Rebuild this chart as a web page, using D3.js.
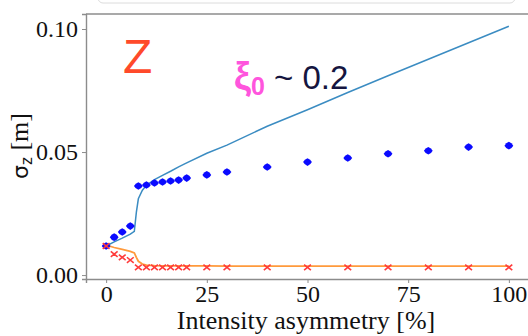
<!DOCTYPE html>
<html>
<head>
<meta charset="utf-8">
<script src="https://cdn.jsdelivr.net/npm/d3@7"></script>
<style>
  body { margin: 0; background: #fff; }
  svg { display: block; }
</style>
</head>
<body>
<div id="chart"></div>
<script>
// measured points (diamonds / crosses)
const measX = [0, 2, 4, 6, 8, 10, 12, 14, 16, 18, 20, 25, 30, 40, 50, 60, 70, 80, 90, 100];
const measBlue = [0.0118, 0.0154, 0.0175, 0.0199, 0.0362, 0.0366, 0.0374, 0.0378, 0.0382, 0.0386,
  0.0394, 0.0407, 0.0419, 0.0439, 0.0459, 0.0476, 0.0493, 0.0505, 0.0520, 0.0526];
const measRed = [0.0118, 0.0085, 0.0072, 0.0061, 0.0031, 0.0031, 0.0031, 0.0031, 0.0031, 0.0031,
  0.0031, 0.0031, 0.0031, 0.0031, 0.0031, 0.0031, 0.0031, 0.0031, 0.0031, 0.0031];

// simulation curves
const simX = [0, 2, 4, 6, 7, 7.5, 8, 9, 10, 12, 14, 16, 18, 20, 25, 30, 40, 50, 60, 70, 80, 90, 100];
const simBlue = [0.0118, 0.0135, 0.0150, 0.0166, 0.0178, 0.0255, 0.0310, 0.0345, 0.0365, 0.0388,
  0.0405, 0.0422, 0.0440, 0.0456, 0.0495, 0.0528, 0.0605, 0.0672, 0.0742, 0.0810, 0.0877, 0.0944, 0.1011];
const simOrange = [0.0122, 0.0112, 0.0104, 0.0096, 0.0090, 0.0072, 0.0056, 0.0045, 0.0040, 0.0038,
  0.0037, 0.0037, 0.0037, 0.0037, 0.0037, 0.0036, 0.0036, 0.0036, 0.0036, 0.0036, 0.0036, 0.0036, 0.0036];

const xTicks = [0, 25, 50, 75, 100];
const yTicks = [0, 0.05, 0.10];

const width = 528;
const height = 336;

const svg = d3.select('#chart').append('svg')
  .attr('width', width)
  .attr('height', height);

const x = d3.scaleLinear().domain([-5, 105]).range([86, 529]);
const y = d3.scaleLinear().domain([-0.0016, 0.1061]).range([279, 14]);

// faint box left over at the top of the screenshot
svg.append('rect')
  .attr('x', 98).attr('y', -12)
  .attr('width', 417).attr('height', 15)
  .attr('rx', 5)
  .attr('fill', 'none')
  .attr('stroke', '#dcdcdc');

const spine = '#8c8c8c';
const serif = '"Liberation Serif", "Times New Roman", serif';

svg.append('g')
  .attr('transform', `translate(0,${y.range()[0]})`)
  .call(d3.axisBottom(x).tickValues(xTicks).tickSize(4).tickPadding(2).tickFormat(d3.format('d')))
  .call((g) => g.select('.domain').attr('stroke', spine).attr('stroke-width', 1.4))
  .call((g) => g.selectAll('.tick line').attr('stroke', spine))
  .call((g) => g.selectAll('.tick text')
    .attr('fill', '#111')
    .style('font-family', serif)
    .style('font-size', '24px'));

svg.append('g')
  .attr('transform', `translate(${x.range()[0]},0)`)
  .call(d3.axisLeft(y).tickValues(yTicks).tickSize(4).tickPadding(4).tickFormat(d3.format('.2f')))
  .call((g) => g.select('.domain').attr('stroke', spine).attr('stroke-width', 1.4))
  .call((g) => g.selectAll('.tick line').attr('stroke', spine))
  .call((g) => g.selectAll('.tick text')
    .attr('fill', '#111')
    .style('font-family', serif)
    .style('font-size', '24px'));

// top spine
svg.append('line')
  .attr('x1', x.range()[0]).attr('x2', x.range()[1])
  .attr('y1', y.range()[1]).attr('y2', y.range()[1])
  .attr('stroke', spine)
  .attr('stroke-width', 1.4);

const line = d3.line().x((d) => x(d[0])).y((d) => y(d[1]));

svg.append('path')
  .datum(simX.map((v, i) => [v, simBlue[i]]))
  .attr('d', line)
  .attr('fill', 'none')
  .attr('stroke', '#3b8cc2')
  .attr('stroke-width', 1.5);

svg.append('path')
  .datum(simX.map((v, i) => [v, simOrange[i]]))
  .attr('d', line)
  .attr('fill', 'none')
  .attr('stroke', '#ff9a3c')
  .attr('stroke-width', 1.8);

svg.append('g')
  .selectAll('path')
  .data(measX.map((v, i) => [v, measBlue[i]]))
  .join('path')
  .attr('transform', (d) => `translate(${x(d[0])},${y(d[1])})`)
  .attr('d', 'M-4.4,0 Q-3,-2.8 0,-3.8 Q3,-2.8 4.4,0 Q3,2.8 0,3.8 Q-3,2.8 -4.4,0 Z')
  .attr('fill', '#0a0aff');

svg.append('g')
  .selectAll('path')
  .data(measX.map((v, i) => [v, measRed[i]]))
  .join('path')
  .attr('transform', (d) => `translate(${x(d[0])},${y(d[1])})`)
  .attr('d', 'M-3.4,-2.8 L3.4,2.8 M-3.4,2.8 L3.4,-2.8')
  .attr('stroke', '#ff3c3c')
  .attr('stroke-width', 1.6)
  .attr('fill', 'none');

// axis titles
svg.append('text')
  .attr('x', 306)
  .attr('y', 329)
  .attr('text-anchor', 'middle')
  .attr('fill', '#111')
  .style('font-family', serif)
  .style('font-size', '26px')
  .text('Intensity asymmetry [%]');

const yl = svg.append('text')
  .attr('transform', 'translate(28,146) rotate(-90)')
  .attr('text-anchor', 'middle')
  .attr('fill', '#111')
  .style('font-family', serif)
  .style('font-size', '26px');
yl.append('tspan')
  .style('font-family', '"DejaVu Sans", sans-serif')
  .style('font-size', '22px')
  .text('σ');
yl.append('tspan')
  .attr('dy', 4)
  .style('font-family', '"DejaVu Sans", sans-serif')
  .style('font-size', '15px')
  .text('z');
yl.append('tspan')
  .attr('dy', -4)
  .text(' [m]');

// annotations
svg.append('text')
  .attr('x', 123)
  .attr('y', 73)
  .attr('fill', '#ff4a2a')
  .style('font-family', '"Liberation Sans", Arial, sans-serif')
  .style('font-size', '48px')
  .text('Z');

const note = svg.append('text')
  .attr('x', 234)
  .attr('y', 89)
  .style('font-family', '"Liberation Sans", Arial, sans-serif')
  .style('font-size', '33px');
note.append('tspan')
  .attr('fill', '#ff55dd')
  .style('font-weight', 'bold')
  .style('font-size', '38px')
  .text('ξ');
note.append('tspan')
  .attr('fill', '#ff55dd')
  .attr('dy', 6)
  .style('font-weight', 'bold')
  .style('font-size', '25px')
  .text('0');
note.append('tspan')
  .attr('fill', '#151540')
  .attr('dy', -6)
  .text(' ~ 0.2');
</script>
</body>
</html>
